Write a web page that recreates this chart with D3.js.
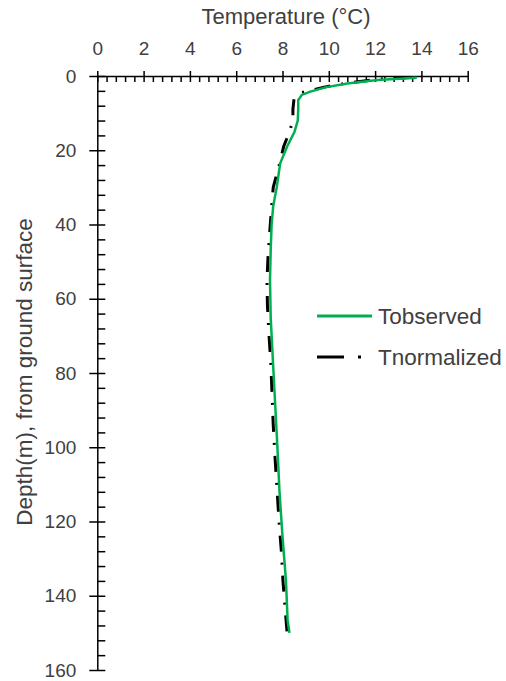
<!DOCTYPE html>
<html>
<head>
<meta charset="utf-8">
<script src="https://cdn.jsdelivr.net/npm/d3@7"></script>
<style>
body { margin: 0; background: #fff; }
text { font-family: "Liberation Sans", Arial, sans-serif; fill: #404040; }
</style>
</head>
<body>
<svg width="506" height="681"></svg>
<script>
// temperature profile
var depthObs = [0.5, 1.1, 2.0, 3.0, 4.2, 5.1, 6.5, 9, 12, 15, 19, 23.5, 30, 35, 40, 47, 55, 65, 76, 88, 100, 112, 124, 136, 146.5, 150];
var tObs = [13.8, 12.1, 10.8, 9.9, 9.2, 8.83, 8.68, 8.68, 8.66, 8.52, 8.2, 7.9, 7.75, 7.6, 7.53, 7.49, 7.46, 7.49, 7.58, 7.68, 7.78, 7.87, 8.0, 8.15, 8.22, 8.3];

var depthNorm = [0.4, 0.8, 2.0, 3.0, 4.5, 6, 9, 12, 15, 19, 23, 30, 36, 42, 48, 55, 62, 70, 78, 86, 94, 102, 110, 120, 128, 136, 144, 150];
var tNorm = [13.5, 12.2, 10.7, 9.8, 8.8, 8.5, 8.45, 8.45, 8.3, 8.05, 7.9, 7.6, 7.52, 7.45, 7.38, 7.33, 7.35, 7.42, 7.5, 7.55, 7.6, 7.67, 7.75, 7.85, 7.95, 8.02, 8.12, 8.2];

var xTicks = [0, 2, 4, 6, 8, 10, 12, 14, 16];
var yTicks = [0, 20, 40, 60, 80, 100, 120, 140, 160];
var seriesNames = ["Tobserved", "Tnormalized"];

var svg = d3.select("svg");

var x = d3.scaleLinear().domain([0, 16]).range([97.3, 467.7]),
    y = d3.scaleLinear().domain([0, 160]).range([76, 670]);

var xMinor = d3.range(0, 16.01, 0.4).filter(function (v) { return Math.abs(v / 2 - Math.round(v / 2)) > 1e-6; });
var yMinor = d3.range(0, 160.01, 4).filter(function (v) { return v % 20 !== 0; });

// minor ticks point into the plot
svg.append("g")
    .attr("transform", "translate(0," + y(0) + ")")
    .call(d3.axisTop(x).tickValues(xMinor).tickSize(-6).tickFormat(""))
    .call(function (g) { g.select(".domain").remove(); });

svg.append("g")
    .attr("transform", "translate(" + x(0) + ",0)")
    .call(d3.axisLeft(y).tickValues(yMinor).tickSize(-8).tickFormat(""))
    .call(function (g) { g.select(".domain").remove(); });

var xAxis = svg.append("g")
    .attr("class", "axis axis--x")
    .attr("transform", "translate(0," + y(0) + ")")
    .call(d3.axisTop(x).tickValues(xTicks).tickSize(0).tickPadding(21).tickSizeOuter(0));

var yAxis = svg.append("g")
    .attr("class", "axis axis--y")
    .attr("transform", "translate(" + x(0) + ",0)")
    .call(d3.axisLeft(y).tickValues(yTicks).tickSize(0).tickPadding(21).tickSizeOuter(0));

// major ticks cross the axis line
xAxis.selectAll(".tick line").attr("y1", -5).attr("y2", 6);
yAxis.selectAll(".tick line").attr("x1", -8).attr("x2", 8);

svg.selectAll(".axis .domain, .tick line").attr("stroke", "#000").attr("stroke-width", 1.5);
svg.selectAll(".axis text").style("font-size", "19px").attr("fill", "#3a3a3a");

svg.append("text")
    .attr("x", 286)
    .attr("y", 24)
    .attr("text-anchor", "middle")
    .style("font-size", "22px")
    .text("Temperature (°C)");

svg.append("text")
    .attr("transform", "translate(32,372) rotate(-90)")
    .attr("text-anchor", "middle")
    .style("font-size", "22.5px")
    .text("Depth(m), from ground surface");

var line = d3.line()
    .x(function (d) { return x(d.t); })
    .y(function (d) { return y(d.depth); });

var obs = depthObs.map(function (d, i) { return {depth: d, t: tObs[i]}; });
var norm = depthNorm.map(function (d, i) { return {depth: d, t: tNorm[i]}; });

svg.append("path")
    .datum(norm)
    .attr("fill", "none")
    .attr("stroke", "#000")
    .attr("stroke-width", 3)
    .attr("stroke-dasharray", "16,11,2,11")
    .attr("d", line);

svg.append("path")
    .datum(obs)
    .attr("fill", "none")
    .attr("stroke", "#00B050")
    .attr("stroke-width", 2.5)
    .attr("d", line);

// legend
var legend = svg.append("g");
legend.append("line")
    .attr("x1", 317).attr("x2", 372).attr("y1", 316).attr("y2", 316)
    .attr("stroke", "#00B050").attr("stroke-width", 3);
legend.append("line")
    .attr("x1", 317).attr("x2", 372).attr("y1", 357).attr("y2", 357)
    .attr("stroke", "#000").attr("stroke-width", 3)
    .attr("stroke-dasharray", "27,14,3,30");
legend.selectAll("text")
    .data(seriesNames)
    .enter().append("text")
    .attr("x", 378)
    .attr("y", function (d, i) { return 316 + i * 41; })
    .attr("dy", "0.35em")
    .style("font-size", "22.5px")
    .text(function (d) { return d; });
</script>
</body>
</html>
